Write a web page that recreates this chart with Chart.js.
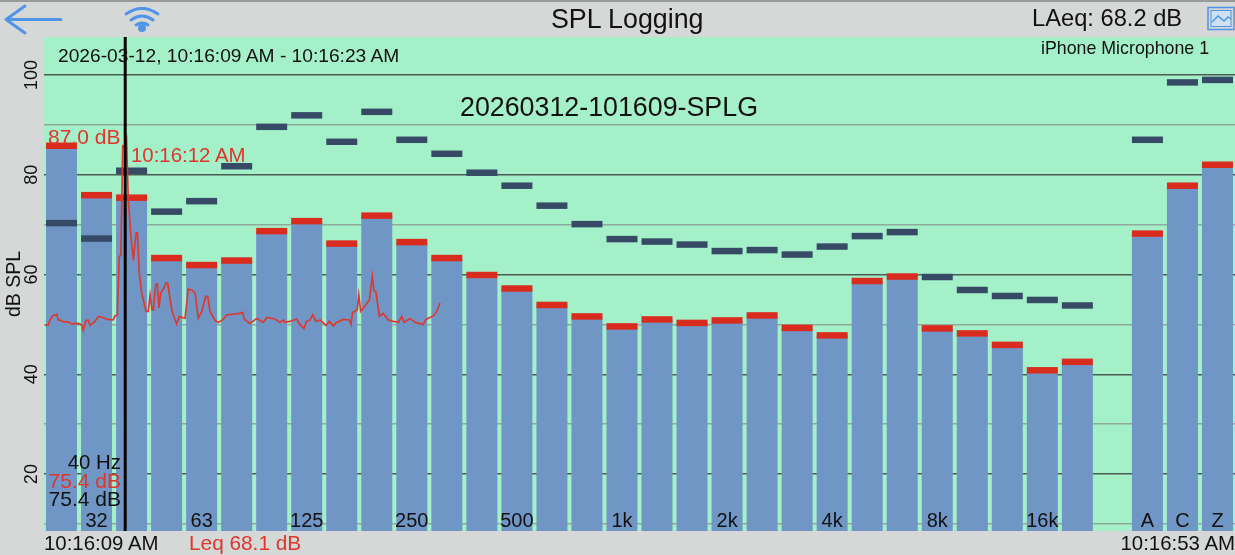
<!DOCTYPE html>
<html>
<head>
<meta charset="utf-8">
<title>SPL Logging</title>
<script src="https://cdn.jsdelivr.net/npm/chart.js@4"></script>
<style>
  html, body { margin: 0; padding: 0; background: #d6d8d8; overflow: hidden; }
  #wrap { position: relative; width: 1235px; height: 555px; font-family: "Liberation Sans", sans-serif; color: #111; }
  #topline { position: absolute; left: 0; top: 0; width: 1235px; height: 2px; background: #979a9a; }
  canvas { position: absolute; left: 0; top: 0; }
  svg { position: absolute; left: 0; top: 0; }
  .t { position: absolute; white-space: nowrap; line-height: 1; transform: translateY(-50%); font-size: 20.4px; }
  .r { color: #e0362a; }
</style>
</head>
<body>
<div id="wrap">
  <div id="topline"></div>
  <canvas id="chart" width="1235" height="555"></canvas>
  <svg width="1235" height="37" viewBox="0 0 1235 37" fill="none" stroke="#4f94e8">
    <path d="M61 19.5H7M25 6L6 19.5L25 33" stroke-width="3" stroke-linecap="round" stroke-linejoin="round"/>
    <path d="M126 14Q142 3 158 14M131 20Q142 12 153 20M136 25Q142 21 148 25" stroke-width="3" stroke-linecap="round"/>
    <circle cx="142" cy="28" r="4" fill="#4f94e8" stroke="none"/>
    <rect x="1208" y="7.5" width="26" height="22" stroke-width="1.5"/>
    <rect x="1211" y="10.5" width="20" height="16" stroke-width="1" fill="#cfe0f5"/>
    <path d="M1212 22L1218 16L1224 21L1228 17L1231 19" stroke-width="1.5"/>
  </svg>
  <div class="t" style="left:551px;top:19px;font-size:26.8px">SPL Logging</div>
  <div class="t" style="left:1032px;top:19px;font-size:23.7px">LAeq: 68.2 dB</div>
  <div class="t" style="left:58px;top:56px;font-size:19.2px">2026-03-12, 10:16:09 AM - 10:16:23 AM</div>
  <div class="t" style="left:1041px;top:49px;font-size:17.8px">iPhone Microphone 1</div>
  <div class="t" style="left:460px;top:107px;font-size:26.8px">20260312-101609-SPLG</div>
  <div class="t r" style="left:48px;top:136px;font-size:21px">87.0 dB</div>
  <div class="t r" style="left:131px;top:155px;">10:16:12 AM</div>
  <div class="t" style="right:1114px;top:462px;">40 Hz</div>
  <div class="t r" style="right:1114px;top:480px;font-size:21px">75.4 dB</div>
  <div class="t" style="right:1114px;top:498px;font-size:21px">75.4 dB</div>
  <div class="t" style="left:44px;top:543px;">10:16:09 AM</div>
  <div class="t r" style="left:189px;top:543px;font-size:20.8px">Leq 68.1 dB</div>
  <div class="t" style="right:0;top:543px;">10:16:53 AM</div>
</div>
<script>
// one slot per 1/3 octave band, then a blank slot, then the A/C/Z totals
const bands = ["25", "31.5", "40", "50", "63", "80", "100", "125", "160", "200", "250", "315", "400", "500", "630", "800",
  "1k", "1.25k", "1.6k", "2k", "2.5k", "3.15k", "4k", "5k", "6.3k", "8k", "10k", "12.5k", "16k", "20k", "", "A", "C", "Z"];
const shownLabels = ["31.5", "63", "125", "250", "500", "1k", "2k", "4k", "8k", "16k", "A", "C", "Z"];
const labelText = { "31.5": "32" };
const levels = [85.8, 75.9, 75.4, 63.3, 61.9, 62.8, 68.7, 70.7, 66.2, 71.8, 66.5, 63.3, 59.9, 57.2, 53.9, 51.6,
  49.6, 51.0, 50.3, 50.8, 51.8, 49.3, 47.8, 58.7, 59.6, 49.2, 48.2, 45.9, 40.8, 42.5, null, 68.2, 77.8, 82.0];
const maxLevels = [70.3, 67.2, 80.8, 72.6, 74.7, 81.7, 89.6, 91.9, 86.6, 92.6, 87.0, 84.2, 80.4, 77.8, 73.8, 70.1,
  67.1, 66.6, 66.0, 64.7, 64.9, 64.0, 65.6, 67.7, 68.5, 59.5, 56.9, 55.7, 54.9, 53.8, null, 87.0, 98.5, 99.0];
// seconds after 10:16:09
const logTimes = [0.04, 0.16, 0.22, 0.32, 0.47, 0.53, 0.65, 0.71, 0.90, 1.02, 1.27, 1.39, 1.45, 1.55, 1.64, 1.70, 1.88, 2.01, 2.19, 2.32,
  2.56, 2.62, 2.71, 2.78, 2.84, 2.91, 2.99, 3.05, 3.11, 3.20, 3.30, 3.40, 3.45, 3.52, 3.61, 3.77, 3.85, 3.92, 3.99, 4.04,
  4.13, 4.19, 4.25, 4.31, 4.41, 4.51, 4.57, 4.72, 4.78, 4.90, 5.00, 5.21, 5.33, 5.46, 5.58, 5.70, 5.83, 5.97, 6.05, 6.13,
  6.32, 6.44, 6.60, 6.75, 7.24, 7.34, 7.39, 7.43, 7.61, 7.86, 8.10, 8.23, 8.53, 8.72, 8.84, 8.90, 9.09, 9.33, 9.46, 9.60,
  9.70, 9.83, 9.93, 10.05, 10.20, 10.42, 10.54, 10.69, 10.81, 11.06, 11.28, 11.34, 11.40, 11.57, 11.63, 11.70, 11.90, 12.02, 12.13, 12.19,
  12.26, 12.39, 12.53, 12.72, 12.90, 13.09, 13.22, 13.30, 13.52, 13.71, 14.01, 14.11, 14.38, 14.51, 14.63];
const logLevels = [49.8, 49.9, 50.9, 51.7, 52.0, 50.9, 50.8, 50.5, 50.5, 50.1, 50.2, 49.9, 48.8, 50.8, 50.8, 49.8, 50.6, 51.6, 51.4, 51.0,
  50.9, 51.7, 51.9, 63.6, 63.9, 85.8, 85.6, 87.0, 75.6, 68.3, 62.9, 68.3, 68.4, 60.3, 56.3, 52.6, 52.6, 55.9, 52.9, 52.9,
  58.1, 58.1, 53.3, 56.3, 57.1, 58.3, 58.3, 52.9, 51.9, 50.1, 51.6, 51.2, 57.1, 56.9, 56.3, 51.2, 52.6, 55.6, 55.6, 52.6,
  50.8, 50.4, 50.9, 51.9, 52.2, 52.4, 51.2, 50.9, 50.2, 51.2, 50.4, 51.4, 51.1, 50.4, 50.9, 50.4, 50.6, 51.1, 49.9, 49.2,
  50.6, 50.9, 51.9, 50.6, 50.9, 49.8, 50.6, 49.7, 50.4, 51.0, 50.9, 50.0, 52.4, 52.9, 55.9, 52.6, 54.0, 54.9, 59.6, 56.8,
  56.6, 51.6, 52.2, 50.9, 50.6, 50.4, 51.6, 50.4, 51.2, 50.4, 50.0, 51.0, 51.7, 52.6, 54.3];
const cursorTime = 3;
const logLength = 44;
const dbMin = 8.6;
const dbMax = 107.6;
const capHalf = 0.65;

const toCap = (v) => (v === null ? null : [v - capHalf, v + capHalf]);

const plotBackground = {
  id: "plotBackground",
  beforeDraw(c) {
    const a = c.chartArea;
    c.ctx.save();
    c.ctx.fillStyle = "#a3f0c9";
    c.ctx.fillRect(a.left, a.top, a.right - a.left, a.bottom - a.top);
    c.ctx.restore();
  },
};

const barOpts = { categoryPercentage: 1, barPercentage: 0.885, grouped: false, xAxisID: "x", yAxisID: "y" };

new Chart(document.getElementById("chart"), {
  data: {
    labels: bands,
    datasets: [
      { type: "line", data: [{ x: cursorTime, y: dbMin }, { x: cursorTime, y: dbMax }], xAxisID: "time", yAxisID: "y",
        borderColor: "#000", borderWidth: 3, pointRadius: 0, order: 0 },
      { type: "line", data: logTimes.map((t, i) => ({ x: t, y: logLevels[i] })), xAxisID: "time", yAxisID: "y",
        borderColor: "#dc3a30", borderWidth: 1.7, pointRadius: 0, tension: 0, order: 1 },
      { type: "bar", data: maxLevels.map(toCap), backgroundColor: "#364a66", order: 2, ...barOpts },
      { type: "bar", data: levels.map(toCap), backgroundColor: "#da2c1e", order: 3, ...barOpts },
      { type: "bar", data: levels, backgroundColor: "#7096c6", order: 4, ...barOpts },
    ],
  },
  options: {
    responsive: false,
    animation: false,
    layout: { padding: { top: 37 } },
    plugins: { legend: { display: false }, tooltip: { enabled: false } },
    scales: {
      x: {
        type: "category",
        offset: true,
        afterFit(s) { s.height = 24; },
        grid: { display: false },
        border: { display: false },
        ticks: {
          autoSkip: false,
          maxRotation: 0,
          // mirror stops the labels being clipped to the axis box
          mirror: true,
          padding: -2,
          z: 1,
          color: "#111",
          font: { family: "Liberation Sans", size: 20 },
          callback(v) {
            const name = bands[v];
            if (!shownLabels.includes(name)) return "";
            return labelText[name] || name;
          },
        },
      },
      time: { type: "linear", display: false, min: 0, max: logLength },
      y: {
        min: dbMin,
        max: dbMax,
        afterFit(s) { s.width = 44; },
        title: { display: true, text: "dB SPL", color: "#111", padding: { top: 3, bottom: 0 }, font: { family: "Liberation Sans", size: 19.5 } },
        border: { display: false },
        grid: {
          drawTicks: false,
          lineWidth: 1.5,
          color: (ctx) => (ctx.tick && ctx.tick.value % 20 === 0 ? "#4b5c54" : "#8fa99c"),
        },
        ticks: {
          stepSize: 10,
          includeBounds: false,
          minRotation: 90,
          maxRotation: 90,
          crossAlign: "center",
          padding: -3,
          color: "#111",
          font: { family: "Liberation Sans", size: 18 },
          callback: (v) => (v % 20 === 0 ? v : ""),
        },
      },
    },
  },
  plugins: [plotBackground],
});
</script>
</body>
</html>
